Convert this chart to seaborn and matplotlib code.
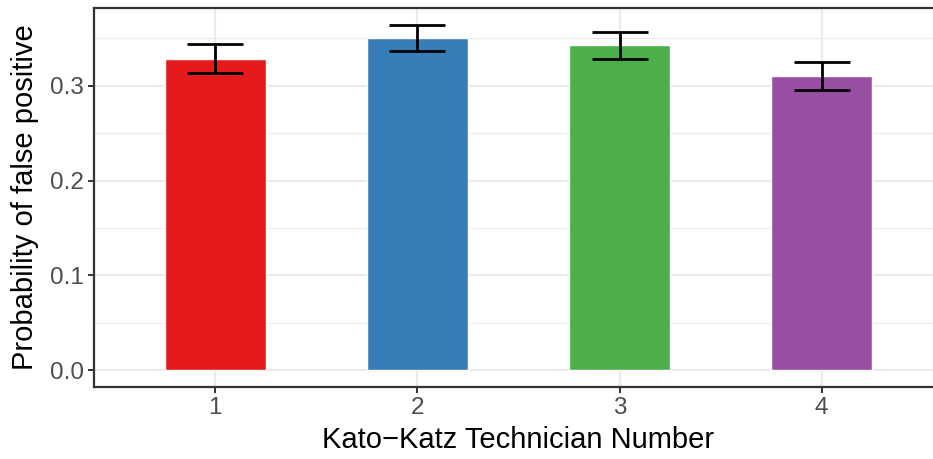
import matplotlib
matplotlib.use("Agg")
import matplotlib.pyplot as plt
import seaborn as sns
import pandas as pd
import numpy as np
from matplotlib.ticker import MultipleLocator

technicians = ["1", "2", "3", "4"]
prob = [0.328, 0.350, 0.343, 0.310]
lower = [0.313, 0.336, 0.328, 0.295]
upper = [0.344, 0.364, 0.357, 0.3245]
colors = ["#E41A1C", "#377EB8", "#4DAF4A", "#984EA3"]

df = pd.DataFrame({"tech": technicians, "prob": prob})

sns.set_theme(style="white")
plt.rcParams['font.family'] = ['Liberation Sans', 'DejaVu Sans']

fig = plt.figure(figsize=(9.33, 4.59), dpi=100)
ax = fig.add_axes([94/933, (459-387.3)/459, (943-94)/933, (387.3-7.7)/459])

sns.barplot(data=df, x="tech", y="prob", hue="tech", palette=colors,
            width=0.5, legend=False, ax=ax, zorder=3, saturation=1)

xs = np.arange(len(technicians))
yerr = [np.array(prob) - np.array(lower), np.array(upper) - np.array(prob)]
ax.errorbar(xs, prob, yerr=yerr, fmt="none", ecolor="black", elinewidth=2.0,
            capsize=20, capthick=2.0, zorder=4)

ax.set_xlim(-0.6, 3.6)
ax.set_ylim(-0.0179, 0.3821)
ax.yaxis.set_major_locator(MultipleLocator(0.1))
ax.yaxis.set_minor_locator(MultipleLocator(0.05))
ax.set_yticks([0.0, 0.1, 0.2, 0.3])
ax.set_yticklabels(["0.0", "0.1", "0.2", "0.3"])

ax.grid(True, which="major", color="#EBEBEB", linewidth=1.6, zorder=0)
ax.grid(True, which="minor", axis="y", color="#EBEBEB", linewidth=0.8, zorder=0)
ax.set_axisbelow(True)

for s in ax.spines.values():
    s.set_color("#333333")
    s.set_linewidth(1.6)
ax.spines["right"].set_visible(False)

ax.tick_params(axis="both", which="major", colors="#333333", length=4, width=1.4,
               labelsize=17.5, labelcolor="#4D4D4D", pad=3, left=True, bottom=True)
ax.tick_params(axis="y", which="minor", length=0)

ax.set_xlabel("Kato\u2212Katz Technician Number", fontsize=21, color="black", labelpad=5)
ax.set_ylabel("Probability of false positive", fontsize=21, color="black", labelpad=8)

fig.savefig("out.png", dpi=100)
